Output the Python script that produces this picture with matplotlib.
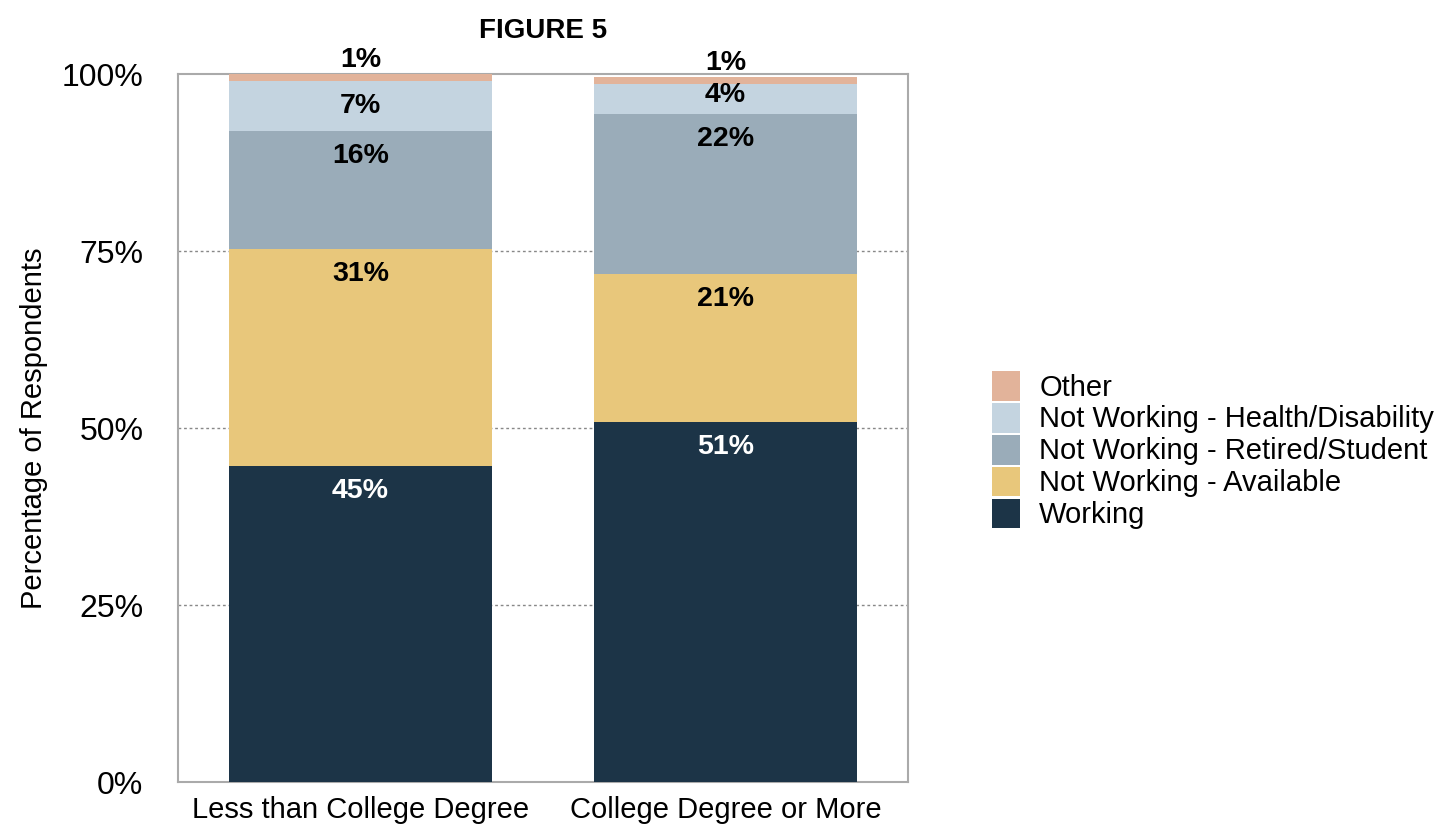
import matplotlib
matplotlib.use("Agg")
import matplotlib.pyplot as plt
import numpy as np

plt.rcParams['font.family'] = ['Liberation Sans', 'DejaVu Sans']

categories = ["Less than College Degree", "College Degree or More"]
series_names = ["Working", "Not Working - Available", "Not Working - Retired/Student",
                "Not Working - Health/Disability", "Other"]
working = [44.6, 50.8]
available = [30.7, 21.0]
retired = [16.6, 22.6]
health = [7.1, 4.2]
other = [1.0, 1.0]
label_text = [["45%", "51%"], ["31%", "21%"], ["16%", "22%"], ["7%", "4%"], ["1%", "1%"]]
yticks = [0, 25, 50, 75, 100]
ytick_labels = ["0%", "25%", "50%", "75%", "100%"]

colors = ["#1c3447", "#e8c77b", "#9aacb9", "#c4d4e0", "#e2b39a"]
text_colors = ["white", "black", "black", "black", "black"]

fig = plt.figure(figsize=(14.53, 8.25), dpi=100)
ax = fig.add_axes([0.1225, 0.0521, 0.5024, 0.8582])

x = np.arange(len(categories))
data = [working, available, retired, health, other]
bottom = np.zeros(len(categories))
handles = []
for i, (vals, name) in enumerate(zip(data, series_names)):
    vals = np.array(vals)
    b = ax.bar(x, vals, width=0.72, bottom=bottom, color=colors[i], label=name, zorder=3)
    handles.append(b)
    tops = bottom + vals
    for j in range(len(categories)):
        if i == 4:
            off = 10
        elif vals[j] < 5:
            off = -8
        else:
            off = -18
        ax.annotate(label_text[i][j], (x[j], tops[j]), xytext=(0, off), textcoords='offset points',
                    ha='center', va='center', fontsize=20.5, fontweight='bold',
                    color=text_colors[i], zorder=5, annotation_clip=False)
    bottom = tops

ax.set_xlim(-0.5, 1.5)
ax.set_ylim(0, 100)
ax.set_yticks(yticks)
ax.set_yticklabels(ytick_labels, fontsize=23)
ax.set_xticks(x)
ax.set_xticklabels(categories, fontsize=21)
ax.tick_params(axis='both', length=0)
ax.tick_params(axis='y', pad=25)
ax.tick_params(axis='x', pad=10)
for t in [25, 50, 75]:
    ax.axhline(t, color='#888888', linestyle=(0, (2, 2)), linewidth=1.0, zorder=1)
for s in ax.spines.values():
    s.set_color('#aaaaaa')
    s.set_linewidth(1.5)
ax.set_ylabel("Percentage of Respondents", fontsize=21, labelpad=10)
ax.set_title("FIGURE 5", fontsize=20, fontweight='bold', pad=26)

leg = fig.legend(handles[::-1], series_names[::-1], loc='center left',
                 bbox_to_anchor=(0.665, 0.4545), frameon=False, fontsize=21,
                 handlelength=0.95, handleheight=1.2, labelspacing=0.04, handletextpad=0.65)

fig.savefig("out.png", dpi=100)
